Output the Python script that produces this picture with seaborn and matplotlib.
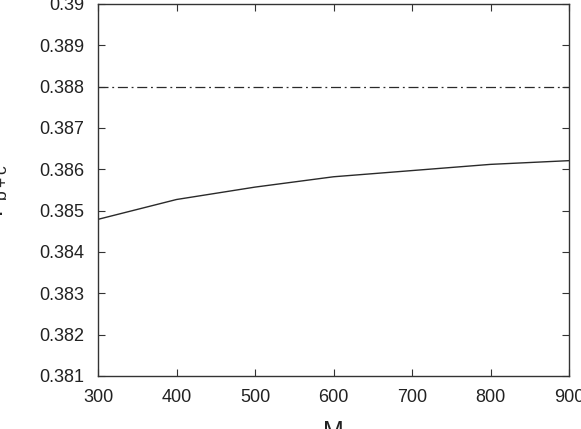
import matplotlib
matplotlib.use("Agg")
import matplotlib.pyplot as plt
import seaborn as sns
import pandas as pd

M_values = [300, 400, 500, 600, 700, 800, 900]
P_values = [0.38479, 0.38527, 0.38557, 0.38582, 0.38597, 0.38612, 0.38621]
reference_level = 0.388
x_ticks = [300, 400, 500, 600, 700, 800, 900]
y_ticks = [0.381, 0.382, 0.383, 0.384, 0.385, 0.386, 0.387, 0.388, 0.389, 0.39]
y_tick_labels = ["0.381", "0.382", "0.383", "0.384", "0.385", "0.386", "0.387", "0.388", "0.389", "0.39"]

sns.set_theme(style="ticks")
plt.rcParams['font.family'] = ['Liberation Sans', 'DejaVu Sans']
plt.rcParams['mathtext.fontset'] = 'custom'
plt.rcParams['mathtext.rm'] = 'Liberation Sans'
plt.rcParams['mathtext.it'] = 'Liberation Sans'

df = pd.DataFrame({"M": M_values, "P": P_values})

fig = plt.figure(figsize=(5.81, 4.29), dpi=100)
ax = fig.add_axes([98/581, 1 - 376/429, 471/581, 372/429])

sns.lineplot(data=df, x="M", y="P", ax=ax, color="#2a2a2a", linewidth=1.0)
ax.axhline(reference_level, color="#2a2a2a", linewidth=0.9, linestyle=(0, (8, 3, 1.5, 3)))

ax.set_xlim(300, 900)
ax.set_ylim(0.381, 0.39)
ax.set_xticks(x_ticks)
ax.set_xticklabels([str(t) for t in x_ticks], fontsize=13)
ax.set_yticks(y_ticks)
ax.set_yticklabels(y_tick_labels, fontsize=13)
ax.tick_params(direction="in", length=5, width=0.8, top=True, right=True,
               labeltop=False, labelright=False, colors="#333333", labelcolor="#222222")
ax.tick_params(axis="x", pad=9.5)
ax.tick_params(axis="y", pad=10)
for s in ax.spines.values():
    s.set_color("#333333")
    s.set_linewidth(1.0)
    s.set_visible(True)

ax.set_xlabel("M", fontsize=18, labelpad=10, color="#222222")
ax.set_ylabel(r"$\mathregular{P_{b+c}}$", fontsize=18, color="#222222")
ax.yaxis.set_label_coords(-0.187, 0.5)

fig.savefig("out.png", dpi=100)
